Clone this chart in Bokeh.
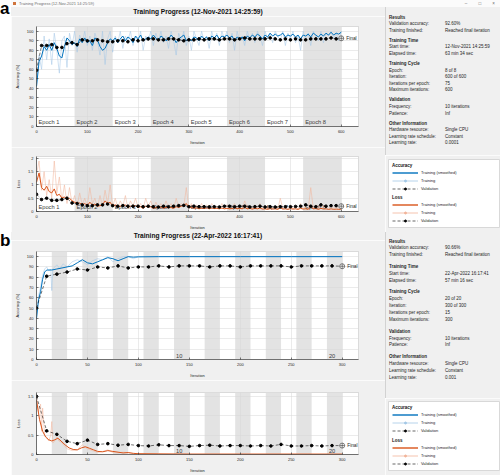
from bokeh.plotting import figure
from bokeh.layouts import column, row
from bokeh.models import Div, Legend, LegendItem, Range1d, FixedTicker, NumeralTickFormatter
from bokeh.core.properties import value
from bokeh.embed import file_html
from bokeh.resources import INLINE

FONT = "Liberation Sans"
WIN_BG = "#f0f0f0"
BLUE = "#0072bd"
BLUE_LIGHT = "#a3c8e6"
ORANGE = "#d95319"
ORANGE_LIGHT = "#f2b49a"
SHADE = "#e3e3e3"
INK = "#262626"

# ------------------------------------------------------------------ panel a data
title_a = "Training Progress (12-Nov-2021 14:25:59)"
iters_per_epoch_a = 75
epochs_a = 8
epoch_label_ids_a = [1, 2, 3, 4, 5, 6, 7, 8]
epoch_label_txt_a = ["Epoch 1", "Epoch 2", "Epoch 3", "Epoch 4", "Epoch 5", "Epoch 6", "Epoch 7", "Epoch 8"]
x_ticks_a = [0, 100, 200, 300, 400, 500, 600]
x_max_a = 634

iter5_a = list(range(0, 601, 5))
iter10_a = list(range(0, 601, 10))

acc_train_a = [42, 75, 60, 95, 70, 92, 65, 98, 80, 56,
               90, 95, 62, 98, 85, 100, 78, 96, 88, 100,
               85, 95, 80, 98, 90, 75, 100, 65, 92, 100,
               78, 95, 88, 100, 82, 95, 90, 100, 85, 95,
               88, 100, 80, 95, 90, 100, 85, 98, 90, 100,
               88, 95, 82, 100, 90, 75, 98, 90, 100, 85,
               95, 80, 100, 92, 85, 100, 90, 95, 82, 100,
               90, 98, 85, 100, 92, 100, 88, 98, 80, 100,
               90, 95, 85, 100, 92, 98, 88, 100, 95, 85,
               100, 92, 98, 88, 100, 95, 90, 100, 85, 98,
               92, 100, 88, 95, 80, 100, 92, 98, 85, 100,
               95, 90, 100, 88, 98, 95, 100, 92, 98, 90,
               100]
acc_smooth_a = [42, 68, 74, 84, 80, 86, 80, 88, 82, 74,
                72, 84, 93, 90, 86, 88, 84, 92, 88, 93,
                88, 90, 85, 93, 91, 84, 80, 82, 88, 92,
                90, 93, 88, 92, 95, 90, 94, 92, 88, 95,
                92, 96, 90, 92, 94, 92, 96, 93, 90, 95,
                93, 90, 92, 96, 93, 88, 92, 94, 96, 90,
                92, 90, 94, 93, 90, 95, 92, 94, 90, 95,
                93, 96, 92, 95, 94, 96, 93, 95, 90, 94,
                92, 94, 90, 95, 93, 96, 94, 97, 95, 92,
                96, 94, 98, 95, 97, 95, 96, 98, 94, 96,
                95, 97, 94, 96, 92, 96, 95, 97, 94, 98,
                96, 94, 97, 95, 98, 96, 99, 96, 98, 97,
                99]
acc_val_a = [59, 85, 85, 86, 83, 83, 87, 88, 86, 91,
             90, 90, 91, 90, 89, 89, 90, 90, 89, 91,
             90, 91, 92, 92, 91, 91, 92, 92, 91, 90,
             91, 91, 92, 91, 92, 92, 91, 92, 92, 91,
             92, 93, 92, 92, 92, 92, 93, 92, 91, 92,
             91, 92, 91, 91, 92, 92, 92, 92, 93, 92,
             92.6]
loss_train_a = [1.4, 1.9, 0.8, 1.5, 0.6, 1.2, 0.5, 1.9, 0.7, 1.3,
                0.4, 1.0, 0.3, 0.9, 0.3, 0.6, 0.2, 0.7, 0.25, 0.5,
                0.2, 0.9, 0.3, 0.5, 0.15, 0.6, 0.2, 0.8, 0.3, 1.0,
                0.2, 0.5, 0.15, 0.4, 0.2, 0.6, 0.1, 0.4, 0.2, 0.5,
                0.15, 0.3, 0.1, 0.5, 0.2, 0.4, 0.1, 0.35, 0.15, 0.3,
                0.1, 0.4, 0.15, 0.3, 0.1, 0.5, 0.15, 0.3, 0.2, 0.9,
                0.1, 0.3, 0.15, 0.25, 0.1, 0.3, 0.12, 0.25, 0.1, 0.3,
                0.15, 0.2, 0.1, 0.3, 0.12, 0.25, 0.1, 0.2, 0.3, 0.12,
                0.2, 0.1, 0.4, 0.12, 0.2, 0.1, 0.25, 0.12, 0.3, 0.1,
                0.2, 0.08, 0.25, 0.1, 0.2, 0.08, 0.5, 0.1, 0.2, 0.08,
                0.25, 0.1, 0.2, 0.08, 0.3, 0.1, 0.2, 0.08, 0.9, 0.1,
                0.25, 0.08, 0.3, 0.1, 0.2, 0.08, 0.25, 0.1, 0.2, 0.08,
                0.15]
loss_smooth_a = [1.1, 1.45, 0.9, 0.8, 0.95, 0.75, 0.7, 0.85, 0.6, 0.65,
                 0.5, 0.55, 0.45, 0.5, 0.4, 0.35, 0.3, 0.32, 0.25, 0.3,
                 0.22, 0.35, 0.25, 0.28, 0.2, 0.22, 0.25, 0.4, 0.3, 0.35,
                 0.2, 0.25, 0.18, 0.2, 0.22, 0.25, 0.15, 0.2, 0.18, 0.22,
                 0.15, 0.18, 0.12, 0.2, 0.16, 0.18, 0.12, 0.15, 0.14, 0.17,
                 0.12, 0.16, 0.14, 0.15, 0.12, 0.18, 0.15, 0.2, 0.22, 0.3,
                 0.15, 0.16, 0.12, 0.14, 0.1, 0.13, 0.11, 0.14, 0.1, 0.13,
                 0.11, 0.12, 0.1, 0.13, 0.1, 0.12, 0.1, 0.11, 0.14, 0.1,
                 0.12, 0.1, 0.15, 0.1, 0.12, 0.09, 0.12, 0.1, 0.13, 0.09,
                 0.1, 0.08, 0.11, 0.09, 0.1, 0.08, 0.14, 0.09, 0.1, 0.08,
                 0.11, 0.09, 0.1, 0.08, 0.12, 0.09, 0.1, 0.08, 0.18, 0.1,
                 0.11, 0.08, 0.12, 0.09, 0.1, 0.08, 0.1, 0.08, 0.09, 0.08,
                 0.09]
loss_val_a = [0.65, 0.45, 0.5, 0.42, 0.42, 0.45, 0.5, 0.32, 0.3, 0.25,
              0.22, 0.22, 0.25, 0.25, 0.28, 0.22, 0.2, 0.22, 0.2, 0.2,
              0.2, 0.18, 0.2, 0.18, 0.17, 0.2, 0.18, 0.2, 0.22, 0.23,
              0.18, 0.2, 0.18, 0.18, 0.17, 0.18, 0.17, 0.2, 0.2, 0.18,
              0.2, 0.2, 0.17, 0.18, 0.2, 0.17, 0.18, 0.17, 0.18, 0.18,
              0.18, 0.19, 0.2, 0.25, 0.2, 0.18, 0.25, 0.2, 0.22, 0.22,
              0.2]
loss_ticks_a = [0, 0.5, 1, 1.5, 2]
loss_max_a = 2.07

info_a = [
    ("Results", [("Validation accuracy:", "92.60%"), ("Training finished:", "Reached final iteration")]),
    ("Training Time", [("Start time:", "12-Nov-2021 14:25:59"), ("Elapsed time:", "63 min 34 sec")]),
    ("Training Cycle", [("Epoch:", "8 of 8"), ("Iteration:", "600 of 600"),
                        ("Iterations per epoch:", "75"), ("Maximum iterations:", "600")]),
    ("Validation", [("Frequency:", "10 iterations"), ("Patience:", "Inf")]),
    ("Other Information", [("Hardware resource:", "Single CPU"), ("Learning rate schedule:", "Constant"),
                           ("Learning rate:", "0.0001")]),
]

# ------------------------------------------------------------------ panel b data
title_b = "Training Progress (22-Apr-2022 16:17:41)"
iters_per_epoch_b = 15
epochs_b = 20
epoch_label_ids_b = [10, 20]
epoch_label_txt_b = ["10", "20"]
x_ticks_b = [0, 50, 100, 150, 200, 250, 300]
x_max_b = 316

acc_train_iter_b = [0, 2, 4, 6, 8, 10, 12, 14, 15, 16, 18, 20, 23, 26, 30, 35, 40, 45, 50, 55,
                    60, 65, 70, 75, 80, 85, 90, 95, 100, 150, 200, 250, 300]
acc_train_b = [40, 62, 70, 82, 88, 90, 86, 88, 67, 88, 90, 92, 88, 93, 90, 95, 97, 95, 92, 96,
               98, 97, 100, 95, 98, 100, 100, 98, 100, 100, 100, 100, 100]
acc_smooth_iter_b = [0, 2, 4, 6, 8, 10, 12, 15, 20, 25, 30, 35, 40, 45, 50, 55, 60, 65, 70, 75,
                     80, 85, 90, 95, 100, 120, 150, 200, 250, 300]
acc_smooth_b = [40, 58, 66, 78, 85, 87, 87, 87, 88, 89, 90, 91, 94, 97, 94, 93, 95, 97, 99, 98,
                96, 98, 100, 99.5, 99.8, 100, 100, 100, 100, 100]
iter10_b = list(range(0, 301, 10))
acc_val_b = [50, 81, 83, 85, 88, 87, 90, 89, 91, 89,
             90, 90, 91, 90, 91, 91, 91, 90, 91, 91,
             90, 91, 91, 91, 91, 90, 91, 91, 91, 91,
             90.66]
loss_train_iter_b = [0, 2, 4, 5, 6, 8, 10, 12, 14, 15, 16, 18, 20, 22, 25, 28, 30, 35, 40, 45,
                     48, 50, 55, 60, 65, 70, 75, 80, 85, 90, 95, 100, 150, 200, 250, 300]
loss_train_b = [1.5, 1.1, 1.3, 0.6, 1.2, 0.5, 0.45, 0.35, 0.5, 0.85, 0.3, 0.35, 0.45, 0.35, 0.3, 0.2,
                0.15, 0.1, 0.12, 0.25, 0.18, 0.15, 0.1, 0.05, 0.08, 0.12, 0.05, 0.04, 0.06, 0.05,
                0.02, 0.02, 0.01, 0.01, 0.01, 0.005]
loss_smooth_iter_b = [0, 3, 6, 9, 12, 15, 18, 21, 24, 28, 32, 36, 40, 44, 48, 52, 56, 60, 65, 70,
                      75, 80, 85, 90, 95, 100, 120, 150, 200, 250, 300]
loss_smooth_b = [1.4, 0.9, 0.6, 0.45, 0.38, 0.35, 0.38, 0.42, 0.35, 0.25, 0.17, 0.13, 0.12, 0.17,
                 0.2, 0.16, 0.12, 0.08, 0.07, 0.1, 0.08, 0.06, 0.04, 0.05, 0.03, 0.02, 0.015, 0.01,
                 0.01, 0.01, 0.01]
loss_val_b = [1.5, 0.61, 0.52, 0.34, 0.28, 0.37, 0.26, 0.28, 0.24, 0.26,
              0.23, 0.22, 0.25, 0.23, 0.23, 0.21, 0.23, 0.24, 0.22, 0.23,
              0.23, 0.22, 0.23, 0.22, 0.26, 0.22, 0.22, 0.23, 0.22, 0.23,
              0.23]
loss_ticks_b = [0, 0.5, 1, 1.5]
loss_max_b = 1.6

info_b = [
    ("Results", [("Validation accuracy:", "90.66%"), ("Training finished:", "Reached final iteration")]),
    ("Training Time", [("Start time:", "22-Apr-2022 16:17:41"), ("Elapsed time:", "57 min 16 sec")]),
    ("Training Cycle", [("Epoch:", "20 of 20"), ("Iteration:", "300 of 300"),
                        ("Iterations per epoch:", "15"), ("Maximum iterations:", "300")]),
    ("Validation", [("Frequency:", "10 iterations"), ("Patience:", "Inf")]),
    ("Other Information", [("Hardware resource:", "Single CPU"), ("Learning rate schedule:", "Constant"),
                           ("Learning rate:", "0.001")]),
]

acc_ticks = [0, 10, 20, 30, 40, 50, 60, 70, 80, 90, 100]
acc_max = 105
legend_labels = ["Training (smoothed)", "Training", "Validation"]

# ------------------------------------------------------------------ helpers
LEFT_W = 374
RIGHT_W = 115
LETTER_W = 11
FONT_CSS = "font-family:'Liberation Sans',Arial,sans-serif;"
# zero-size strut on the Div host so short contents are not pushed down by the host's line box
HOST_FLAT = {"font-size": "0px", "line-height": "0px", "overflow": "hidden"}


def new_axes(height, borders, xmax, ymax, xticks, yticks, ylabel, yfmt):
    p = figure(width=LEFT_W, height=height, output_backend="svg", toolbar_location=None,
               x_range=Range1d(0, xmax), y_range=Range1d(0, ymax),
               min_border_left=25, min_border_right=27,
               min_border_top=borders[0], min_border_bottom=borders[1],
               background_fill_color="white", border_fill_color=WIN_BG,
               outline_line_color="#c4c4c4", outline_line_width=0.6)
    p.xaxis.ticker = FixedTicker(ticks=xticks)
    p.yaxis.ticker = FixedTicker(ticks=yticks)
    p.yaxis.formatter = NumeralTickFormatter(format=yfmt)
    p.xaxis.axis_label = "Iteration"
    p.yaxis.axis_label = ylabel
    for ax in list(p.xaxis) + list(p.yaxis):
        ax.major_label_text_font = FONT
        ax.major_label_text_font_size = "4px"
        ax.major_label_text_color = INK
        ax.axis_label_text_font = FONT
        ax.axis_label_text_font_size = "4px"
        ax.axis_label_text_font_style = "normal"
        ax.axis_label_text_color = INK
        ax.axis_line_color = INK
        ax.axis_line_width = 0.6
        ax.major_tick_line_color = INK
        ax.major_tick_line_width = 0.6
        ax.major_tick_in = 2
        ax.major_tick_out = 0
        ax.minor_tick_line_color = None
        ax.major_label_standoff = 3
        ax.axis_label_standoff = 4
    p.grid.grid_line_color = "#d6d6d6"
    p.grid.grid_line_width = 0.5
    return p


def title_div(text, height):
    return Div(text=f'<div style="display:block;width:{LEFT_W}px;height:{height}px;{FONT_CSS}'
                    f'font-weight:bold;font-size:6.6px;line-height:{height}px;'
                    f'text-align:center;color:#111111;white-space:nowrap">{text}</div>',
               width=LEFT_W, height=height, margin=0,
               styles=dict(HOST_FLAT, **{"background-color": WIN_BG}))


def decorate(p, ymax, ipe, n_ep, lab_ids, lab_txt, lab_size):
    starts = [i * ipe for i in range(n_ep)]
    shaded_l = [s for i, s in enumerate(starts) if i % 2 == 1]
    shaded_r = [s + ipe for s in shaded_l]
    p.quad(left=shaded_l, right=shaded_r, bottom=0, top=ymax, fill_color=SHADE,
           line_color=None, level="image")
    p.text(x=[(k - 1) * ipe for k in lab_ids], y=[0] * len(lab_ids), text=lab_txt,
           x_offset=2, y_offset=-2, text_baseline="bottom", text_align="left",
           text_font=value(FONT), text_font_size=lab_size, text_color="#3c3c3c")


def series(p, raw_x, raw_y, sm_x, sm_y, val_x, val_y, c_raw, c_sm):
    p.line(raw_x, raw_y, line_color=c_raw, line_width=0.6, line_alpha=0.9)
    p.line(sm_x, sm_y, line_color=c_sm, line_width=1.0)
    p.line(val_x, val_y, line_color="black", line_width=0.55, line_dash="3 2")
    p.scatter(val_x, val_y, size=2.6, marker="circle", fill_color="black", line_color="black")
    p.scatter([val_x[-1]], [val_y[-1]], size=5, marker="circle_cross", fill_color="white",
              line_color="#333333", line_width=0.6)
    p.text(x=[val_x[-1]], y=[val_y[-1]], text=["Final"], x_offset=5, text_baseline="middle",
           text_font=value(FONT), text_font_size="4.8px", text_color=INK)


def info_div(sections, height, top, line_h, gap):
    parts = []
    for i, (head, rows) in enumerate(sections):
        mt = top if i == 0 else gap
        parts.append(f'<div style="margin-top:{mt}px;height:{line_h}px;line-height:{line_h}px;'
                     f'font-weight:bold">{head}</div>')
        for lab, val in rows:
            parts.append(f'<div style="height:{line_h}px;line-height:{line_h}px;white-space:nowrap">'
                         f'<span style="display:inline-block;width:56px">{lab}</span>{val}</div>')
    html = (f'<div style="{FONT_CSS}font-size:4.5px;'
            f'color:#1e1e1e;padding-left:3px">' + "".join(parts) + "</div>")
    return Div(text=html, width=RIGHT_W, height=height, margin=0,
               styles={"background-color": WIN_BG, "border-left": "1px solid #d2d2d2",
                       "box-sizing": "border-box", "overflow": "hidden"})


def legend_fig(height, b_top, b_bottom, groups):
    # the legend samples reuse the real series; the view window lies outside the data,
    # so only the legend itself is visible
    lf = figure(width=RIGHT_W, height=height, output_backend="svg", toolbar_location=None,
                x_range=Range1d(-2, -1), y_range=Range1d(-2, -1), x_axis_type=None, y_axis_type=None,
                min_border_left=3, min_border_right=0, min_border_top=b_top, min_border_bottom=b_bottom,
                background_fill_color="white", border_fill_color=WIN_BG,
                outline_line_color="#cfcfcf", outline_line_width=0.8)
    lf.grid.visible = False
    for title, c_sm, c_raw, loc, (sx, sy), (rx, ry), (vx, vy) in groups:
        r_sm = lf.line(sx, sy, line_color=c_sm, line_width=1.4)
        r_raw_l = lf.line(rx, ry, line_color=c_raw, line_width=0.8)
        r_raw_m = lf.scatter(rx, ry, size=3, marker="circle", fill_color=c_raw, line_color=c_raw)
        r_val_l = lf.line(vx, vy, line_color="black", line_width=0.6, line_dash="3 2")
        r_val_m = lf.scatter(vx, vy, size=2.6, marker="circle", fill_color="black", line_color="black")
        items = [LegendItem(label=legend_labels[0], renderers=[r_sm]),
                 LegendItem(label=legend_labels[1], renderers=[r_raw_l, r_raw_m]),
                 LegendItem(label=legend_labels[2], renderers=[r_val_l, r_val_m])]
        leg = Legend(items=items, title=title, location=loc, margin=0, padding=4,
                     spacing=3, label_height=5, glyph_height=5, glyph_width=26, label_standoff=3,
                     label_text_font=FONT, label_text_font_size="4px", label_text_color=INK,
                     title_text_font=FONT, title_text_font_size="4.5px", title_text_font_style="bold",
                     title_text_color="#111111", title_standoff=2,
                     background_fill_alpha=0, border_line_alpha=0)
        lf.add_layout(leg)
    return lf


def letter_div(ch, height):
    return Div(text=f'<div style="display:block;{FONT_CSS}font-weight:bold;'
                    f'font-size:17px;line-height:17px;color:#000">{ch}</div>',
               width=LETTER_W, height=height, margin=0,
               styles=dict(HOST_FLAT, **{"background-color": "white", "overflow": "visible"}))


# ------------------------------------------------------------------ panel a
acc_a = new_axes(131, (10, 17), x_max_a, acc_max, x_ticks_a, acc_ticks, "Accuracy (%)", "0")
decorate(acc_a, acc_max, iters_per_epoch_a, epochs_a, epoch_label_ids_a, epoch_label_txt_a, "5.7px")
series(acc_a, iter5_a, acc_train_a, iter5_a, acc_smooth_a, iter10_a, acc_val_a, BLUE_LIGHT, BLUE)

loss_a = new_axes(85, (9, 15), x_max_a, loss_max_a, x_ticks_a, loss_ticks_a, "Loss", "0.[0]")
decorate(loss_a, loss_max_a, iters_per_epoch_a, epochs_a, epoch_label_ids_a, epoch_label_txt_a, "5.7px")
series(loss_a, iter5_a, loss_train_a, iter5_a, loss_smooth_a, iter10_a, loss_val_a, ORANGE_LIGHT, ORANGE)

bar_html = (f'<div style="display:flex;align-items:center;width:{LEFT_W + RIGHT_W}px;height:7px;{FONT_CSS}'
            'font-size:4px;line-height:7px;color:#6e6e6e">'
            '<span style="display:inline-block;width:3px;height:3px;background:#d0743c;margin:0 3px 0 2px"></span>'
            f'<span>{title_a}</span>'
            '<span style="margin-left:auto;margin-right:5px;font-size:4.5px;word-spacing:10px">&#8211; &#9633; &#215;</span>'
            '</div>')
bar_a = Div(text=bar_html, width=LEFT_W + RIGHT_W, height=7, margin=0,
            styles=dict(HOST_FLAT, **{"background-color": "#fbfbfb"}))

legend_a = legend_fig(77, 4, 5, [
    ("Accuracy", BLUE, BLUE_LIGHT, "top_left",
     (iter5_a, acc_smooth_a), (iter5_a, acc_train_a), (iter10_a, acc_val_a)),
    ("Loss", ORANGE, ORANGE_LIGHT, "bottom_left",
     (iter5_a, loss_smooth_a), (iter5_a, loss_train_a), (iter10_a, loss_val_a)),
])

panel_a = row(letter_div("a", 232),
              column(bar_a,
                     row(column(title_div(title_a, 9), acc_a, loss_a),
                         column(info_div(info_a, 148, 7.7, 6.6, 3.4), legend_a))))

# ------------------------------------------------------------------ panel b
acc_b = new_axes(140, (11, 16), x_max_b, acc_max, x_ticks_b, acc_ticks, "Accuracy (%)", "0")
decorate(acc_b, acc_max, iters_per_epoch_b, epochs_b, epoch_label_ids_b, epoch_label_txt_b, "5.7px")
series(acc_b, acc_train_iter_b, acc_train_b, acc_smooth_iter_b, acc_smooth_b, iter10_b, acc_val_b,
       BLUE_LIGHT, BLUE)

loss_b = new_axes(95, (12, 15), x_max_b, loss_max_b, x_ticks_b, loss_ticks_b, "Loss", "0.[0]")
decorate(loss_b, loss_max_b, iters_per_epoch_b, epochs_b, epoch_label_ids_b, epoch_label_txt_b, "5.7px")
series(loss_b, loss_train_iter_b, loss_train_b, loss_smooth_iter_b, loss_smooth_b, iter10_b, loss_val_b,
       ORANGE_LIGHT, ORANGE)

legend_b = legend_fig(77, 3, 5, [
    ("Accuracy", BLUE, BLUE_LIGHT, "top_left",
     (acc_smooth_iter_b, acc_smooth_b), (acc_train_iter_b, acc_train_b), (iter10_b, acc_val_b)),
    ("Loss", ORANGE, ORANGE_LIGHT, "bottom_left",
     (loss_smooth_iter_b, loss_smooth_b), (loss_train_iter_b, loss_train_b), (iter10_b, loss_val_b)),
])

panel_b = row(letter_div("b", 243),
              row(column(title_div(title_b, 8), acc_b, loss_b),
                  column(info_div(info_b, 166, 6.5, 6.9, 4.8), legend_b)))

root = column(panel_a, panel_b)

open("out.html", "w").write(file_html(root, INLINE))
